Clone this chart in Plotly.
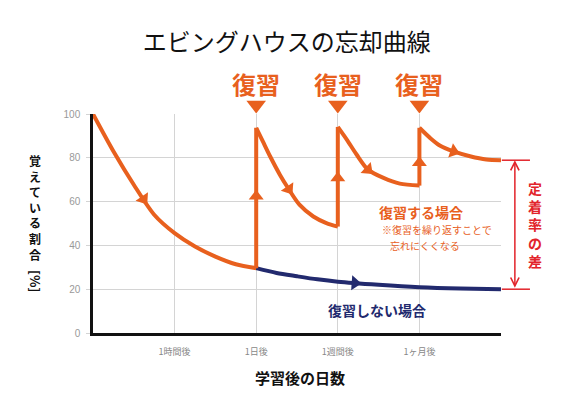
import numpy as np
import plotly.graph_objects as go

# ---------------- data ----------------
x_tick_vals = [1, 2, 3, 4, 5]
x_tick_text = ["1時間後", "1日後", "1週間後", "1ヶ月後", ""]
y_tick_vals = [0, 20, 40, 60, 80, 100]

# forgetting curve before first review
forget_x = [0, 0.25, 0.5, 0.75, 1.0, 1.25, 1.5, 1.75, 2.0]
forget_y = [100, 83, 67.7, 54, 45.6, 39.5, 34.9, 31.4, 29.6]

# after reviews
review1_x = [2.0, 2.08, 2.17, 2.29, 2.39, 2.53, 2.70, 2.86, 3.0]
review1_y = [93.7, 87.6, 80.7, 72.3, 66.2, 58.6, 53.2, 50.2, 48.6]
review2_x = [3.0, 3.11, 3.23, 3.37, 3.56, 3.76, 4.0]
review2_y = [94.1, 88.3, 81.5, 74.6, 70.8, 68.2, 67.3]
review3_x = [4.0, 4.13, 4.25, 4.41, 4.62, 4.82, 5.0]
review3_y = [93.7, 89.1, 85.6, 83.0, 80.7, 79.2, 78.9]

# without review
no_review_x = [2.0, 2.25, 2.5, 2.75, 3.0, 3.5, 4.0, 4.5, 5.0]
no_review_y = [29.6, 27.4, 25.9, 24.5, 23.4, 22.0, 20.9, 20.3, 20.0]

review_days = [2, 3, 4]
review_label = "復習"

# ---------------- style ----------------
ORANGE = "#E8601E"
NAVY = "#222a6e"
RED = "#E2242B"
GRID = "#d4d4d4"
FONT = "Noto Sans CJK JP"
PX_X = 81.5   # pixels per x unit (for arrow orientation)
PX_Y = 2.185  # pixels per y unit

fig = go.Figure()


def angle_on(xs, ys, x0):
    dx = 0.02
    y1 = np.interp(x0 - dx, xs, ys)
    y2 = np.interp(x0 + dx, xs, ys)
    vx = 2 * dx * PX_X
    vy = -(y2 - y1) * PX_Y  # screen y down
    return float(np.degrees(np.arctan2(vx, -vy)))


# navy line first
fig.add_trace(go.Scatter(x=no_review_x, y=no_review_y, mode="lines",
                         line=dict(color=NAVY, width=4, shape="spline", smoothing=0.8),
                         hoverinfo="skip", showlegend=False))

segments = [(forget_x, forget_y), (review1_x, review1_y),
            (review2_x, review2_y), (review3_x, review3_y)]
for sx, sy in segments:
    fig.add_trace(go.Scatter(x=sx, y=sy, mode="lines",
                             line=dict(color=ORANGE, width=4, shape="spline", smoothing=0.8),
                             hoverinfo="skip", showlegend=False))

# vertical jumps at reviews
ends = [forget_y[-1], review1_y[-1], review2_y[-1]]
peaks = [review1_y[0], review2_y[0], review3_y[0]]
for d, lo, hi in zip(review_days, ends, peaks):
    fig.add_trace(go.Scatter(x=[d, d], y=[lo, hi], mode="lines",
                             line=dict(color=ORANGE, width=4),
                             hoverinfo="skip", showlegend=False))

# arrowheads along curves
arrow_pos = [0.62, 2.40, 3.37, 4.42]
ax_list, ay_list, ang_list = [], [], []
for (sx, sy), px in zip(segments, arrow_pos):
    ax_list.append(px)
    ay_list.append(float(np.interp(px, sx, sy)))
    ang_list.append(angle_on(sx, sy, px))
up_arrow_y = [62.4, 70.8, 77.7]
ax_list += review_days
ay_list += up_arrow_y
ang_list += [0, 0, 0]
fig.add_trace(go.Scatter(x=ax_list, y=ay_list, mode="markers",
                         marker=dict(symbol="triangle-up", size=13, color=ORANGE,
                                     angle=ang_list, line=dict(width=0)),
                         hoverinfo="skip", showlegend=False))

nav_arrow_x = 3.21
fig.add_trace(go.Scatter(x=[nav_arrow_x], y=[float(np.interp(nav_arrow_x, no_review_x, no_review_y))],
                         mode="markers",
                         marker=dict(symbol="triangle-up", size=13, color=NAVY,
                                     angle=[angle_on(no_review_x, no_review_y, nav_arrow_x)],
                                     line=dict(width=0)),
                         hoverinfo="skip", showlegend=False))

# review triangles above plot (anchored at top edge, pushed up via standoff)
fig.add_trace(go.Scatter(x=review_days, y=[99.99] * 3, mode="markers", cliponaxis=False,
                         marker=dict(symbol="triangle-up", size=17, color=ORANGE, angle=180,
                                     standoff=9, line=dict(width=0)),
                         hoverinfo="skip", showlegend=False))

annotations = []
for d in review_days:
    annotations.append(dict(x=d, y=1.137, xref="x", yref="paper", text="<b>" + review_label + "</b>",
                            xanchor="center", yanchor="middle",
                            showarrow=False, font=dict(family=FONT, size=24, color=ORANGE)))

# y axis title as vertical stacked text
ytitle = "覚えている割合"
annotations.append(dict(x=-0.141, y=0.574, xref="paper", yref="paper",
                        text="<b>" + "<br>".join(ytitle) + "</b>",
                        xanchor="center", yanchor="middle",
                        showarrow=False, font=dict(family=FONT, size=12, color="#111")))
annotations.append(dict(x=-0.141, y=0.235, xref="paper", yref="paper", text="<b>[%]</b>",
                        xanchor="center", yanchor="middle",
                        textangle=90, showarrow=False, font=dict(family=FONT, size=13, color="#111")))

# x axis title
annotations.append(dict(x=0.507, y=-0.201, xref="paper", yref="paper", text="<b>学習後の日数</b>",
                        xanchor="center", yanchor="middle",
                        showarrow=False, font=dict(family=FONT, size=15, color="#111")))

# in-plot labels
annotations.append(dict(x=4.02, y=55.4, xref="x", yref="y", text="<b>復習する場合</b>",
                        showarrow=False, font=dict(family=FONT, size=14, color=ORANGE)))
annotations.append(dict(x=3.515, y=47.1, xref="x", yref="y", text="※復習を繰り返すことで",
                        xanchor="left", showarrow=False, font=dict(family=FONT, size=10, color=ORANGE)))
annotations.append(dict(x=3.613, y=39.8, xref="x", yref="y", text="忘れにくくなる",
                        xanchor="left", showarrow=False, font=dict(family=FONT, size=10, color=ORANGE)))
annotations.append(dict(x=3.48, y=10.5, xref="x", yref="y", text="<b>復習しない場合</b>",
                        showarrow=False, font=dict(family=FONT, size=14, color=NAVY)))

# bracket: double arrow
top_v = review3_y[-1]
bot_v = no_review_y[-1]
annotations.append(dict(x=1.034, y=top_v, xref="paper", yref="y", axref="pixel", ayref="y",
                        ax=0, ay=bot_v, text="", showarrow=True, arrowside="end+start",
                        arrowhead=5, startarrowhead=5, arrowsize=1.1, startarrowsize=1.1,
                        arrowwidth=1.5, arrowcolor=RED, standoff=0, startstandoff=0))
label = "定着率の差"
annotations.append(dict(x=1.083, y=0.494, xref="paper", yref="paper",
                        text="<b>" + "<br>".join(label) + "</b>",
                        xanchor="center", yanchor="middle",
                        showarrow=False, font=dict(family=FONT, size=14, color=RED)))

shapes = []
for v in (top_v, bot_v):
    shapes.append(dict(type="line", xref="paper", yref="paper", x0=1.002, x1=1.071,
                       y0=v / 100, y1=v / 100, line=dict(color=RED, width=1.5)))

fig.update_layout(
    width=559, height=385,
    margin=dict(l=85, r=66, t=106, b=60),
    paper_bgcolor="white", plot_bgcolor="white",
    title=dict(text="エビングハウスの忘却曲線", x=0.475, xref="paper", xanchor="center",
               y=0.909, yref="container", yanchor="middle",
               font=dict(family=FONT, size=24, color="#111")),
    annotations=annotations, shapes=shapes,
    xaxis=dict(range=[0, 5], tickvals=x_tick_vals, ticktext=x_tick_text,
               showgrid=True, gridcolor=GRID, gridwidth=1, zeroline=False,
               showline=True, linecolor="#111", linewidth=3, ticks="",
               tickfont=dict(family=FONT, size=9, color="#888"), ticklabelstandoff=8,
               fixedrange=True),
    yaxis=dict(range=[0, 100], tickvals=y_tick_vals,
               showgrid=True, gridcolor=GRID, gridwidth=1, zeroline=False,
               showline=True, linecolor="#111", linewidth=2.5,
               ticks="outside", ticklen=4, tickcolor=GRID,
               tickfont=dict(family="Liberation Sans", size=10, color="#999"), ticklabelstandoff=4,
               fixedrange=True),
    showlegend=False,
)

fig.write_html("out.html")
